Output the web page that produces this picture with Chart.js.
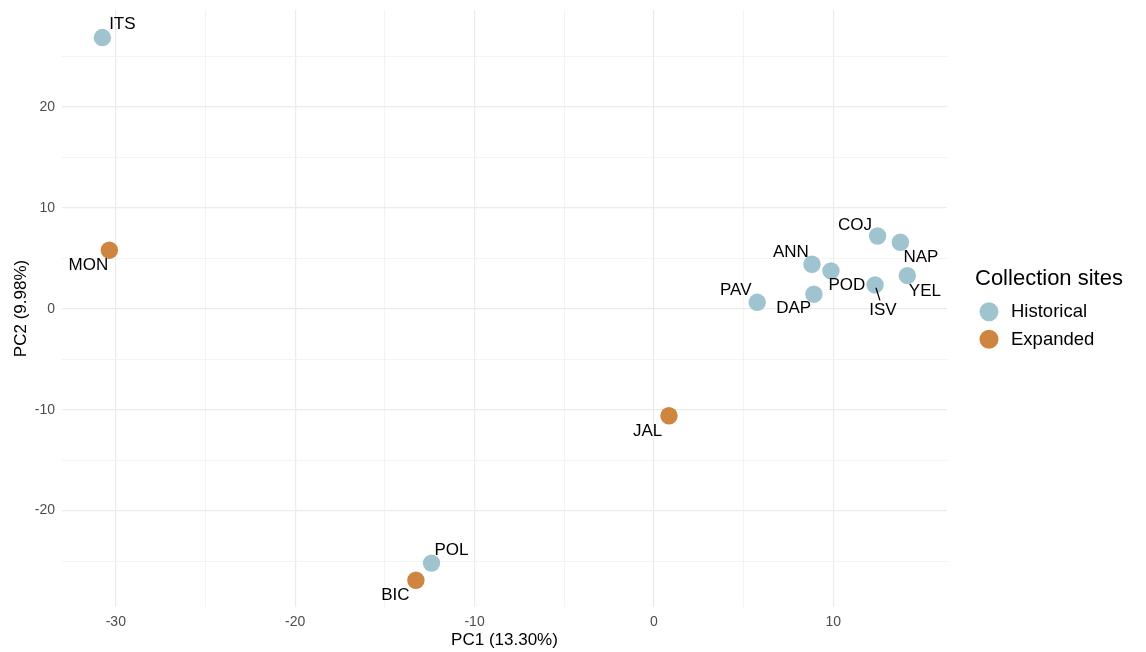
<!DOCTYPE html>
<html>
<head>
<meta charset="utf-8">
<script src="https://cdn.jsdelivr.net/npm/chart.js@4.4.1/dist/chart.umd.min.js"></script>
<style>
html,body{margin:0;padding:0;background:#fff;}
#wrap{width:1146px;height:652px;position:relative;}
</style>
</head>
<body>
<div id="wrap"><canvas id="c" width="1146" height="652"></canvas></div>
<script>
// ---- data ----
const sites = ['ITS','MON','PAV','DAP','ANN','POD','ISV','COJ','NAP','YEL','JAL','POL','BIC'];
const pc1   = [-30.75,-30.36, 5.76, 8.92, 8.81, 9.87,12.33,12.47,13.74,14.13, 0.84,-12.4,-13.27];
const pc2   = [ 26.87,  5.8, 0.64, 1.44, 4.41, 3.75, 2.36, 7.21, 6.59, 3.28,-10.6,-25.2,-26.9];
const group = ['Historical','Expanded','Historical','Historical','Historical','Historical','Historical','Historical','Historical','Historical','Expanded','Historical','Expanded'];
const groups = ['Historical','Expanded'];
const xTickValues = [-30,-20,-10,0,10];
const yTickValues = [-20,-10,0,10,20];

const colors = {Historical:'#9fc4d0', Expanded:'#cd853f'};
const FONT = "'Liberation Sans', Arial, sans-serif";

// label offsets (pixels, text centre relative to point) mimicking ggrepel placement
const labelOffsets = {
  ITS:[20,-13.5], MON:[-21,15], PAV:[-21.5,-12.3], DAP:[-20.2,14.5], ANN:[-21,-12.3],
  POD:[16,14.7], ISV:[7.8,25], COJ:[-22.7,-11], NAP:[20.5,15.2], YEL:[17.5,16],
  JAL:[-21.3,15.3], POL:[20,-12.6], BIC:[-20.5,15]
};
const segmentLabels = {ISV:true};

const datasets = groups.map(g => ({
  label: g,
  data: sites.map((s,i)=>({x:pc1[i], y:pc2[i], site:s, g:group[i]})).filter(d=>d.g===g),
  backgroundColor: colors[g],
  borderWidth: 0,
  pointRadius: 8.7,
  pointHoverRadius: 8.7
}));

function isMultiple(v, step){ return Math.abs(v/step - Math.round(v/step)) < 1e-9; }

const labelPlugin = {
  id:'pointLabels',
  afterDatasetsDraw(chart){
    const ctx = chart.ctx;
    ctx.save();
    ctx.font = '17px ' + FONT;
    ctx.fillStyle = '#000';
    ctx.textAlign = 'center';
    ctx.textBaseline = 'middle';
    chart.data.datasets.forEach((ds, di) => {
      const meta = chart.getDatasetMeta(di);
      meta.data.forEach((el, i) => {
        const s = ds.data[i].site;
        const off = labelOffsets[s] || [0,-15];
        const tx = el.x + off[0], ty = el.y + off[1];
        if (segmentLabels[s]) {
          ctx.strokeStyle = '#000';
          ctx.lineWidth = 1.3;
          ctx.beginPath();
          const dx = tx - el.x, dy = ty - el.y;
          const len = Math.sqrt(dx*dx+dy*dy);
          ctx.moveTo(el.x + dx/len*3, el.y + dy/len*3);
          ctx.lineTo(tx - dx/len*10, ty - dy/len*10);
          ctx.stroke();
        }
        ctx.fillText(s, tx, ty);
      });
    });
    ctx.restore();
  }
};

const legendPlugin = {
  id:'customLegend',
  afterDraw(chart){
    const ctx = chart.ctx;
    const a = chart.chartArea;
    const x0 = a.right + 28;
    ctx.save();
    ctx.fillStyle = '#000';
    ctx.textBaseline = 'middle';
    ctx.textAlign = 'left';
    ctx.font = '22px ' + FONT;
    ctx.fillText('Collection sites', x0, 279);
    ctx.font = '18.5px ' + FONT;
    chart.data.datasets.forEach((ds, i) => {
      const cy = 311.7 + i*27.6;
      ctx.fillStyle = ds.backgroundColor;
      ctx.beginPath();
      ctx.arc(x0 + 14, cy, 9.5, 0, Math.PI*2);
      ctx.fill();
      ctx.fillStyle = '#000';
      ctx.fillText(ds.label, x0 + 36, cy + 0.5);
    });
    ctx.restore();
  }
};

const gridColor = ctx => isMultiple(ctx.tick.value, 10) ? '#ebebeb' : '#f2f2f2';
const gridWidth = ctx => isMultiple(ctx.tick.value, 10) ? 1.2 : 0.9;

new Chart(document.getElementById('c'), {
  type:'scatter',
  data:{datasets},
  options:{
    responsive:false,
    animation:false,
    layout:{padding:{top:10,right:199,left:0,bottom:0}},
    plugins:{legend:{display:false}, tooltip:{enabled:false}},
    scales:{
      x:{
        type:'linear', min:-33.0, max:16.34,
        ticks:{stepSize:5, padding:7, color:'#4d4d4d', font:{family:FONT,size:14},
          autoSkip:false, maxRotation:0,
          callback:v => xTickValues.includes(v) ? String(v) : ''},
        afterBuildTicks: s => { s.ticks = s.ticks.filter(t => isMultiple(t.value,5)); },
        afterFit: s => { s.height = 45; s.paddingLeft = 0; s.paddingRight = 0; },
        grid:{color:gridColor, lineWidth:gridWidth, drawTicks:false},
        border:{display:false},
        title:{display:true, text:'PC1 (13.30%)', color:'#000', font:{family:FONT,size:17}, padding:{top:0,bottom:1}}
      },
      y:{
        type:'linear', min:-29.55, max:29.6,
        ticks:{stepSize:5, padding:7, color:'#4d4d4d', font:{family:FONT,size:14},
          autoSkip:false,
          callback:v => yTickValues.includes(v) ? String(v) : ''},
        afterBuildTicks: s => { s.ticks = s.ticks.filter(t => isMultiple(t.value,5)); },
        afterFit: s => { s.width = 62; s.paddingTop = 0; s.paddingBottom = 0; },
        grid:{color:gridColor, lineWidth:gridWidth, drawTicks:false},
        border:{display:false},
        title:{display:true, text:'PC2 (9.98%)', color:'#000', font:{family:FONT,size:17}, padding:{top:11,bottom:0}}
      }
    }
  },
  plugins:[labelPlugin, legendPlugin]
});
</script>
</body>
</html>
